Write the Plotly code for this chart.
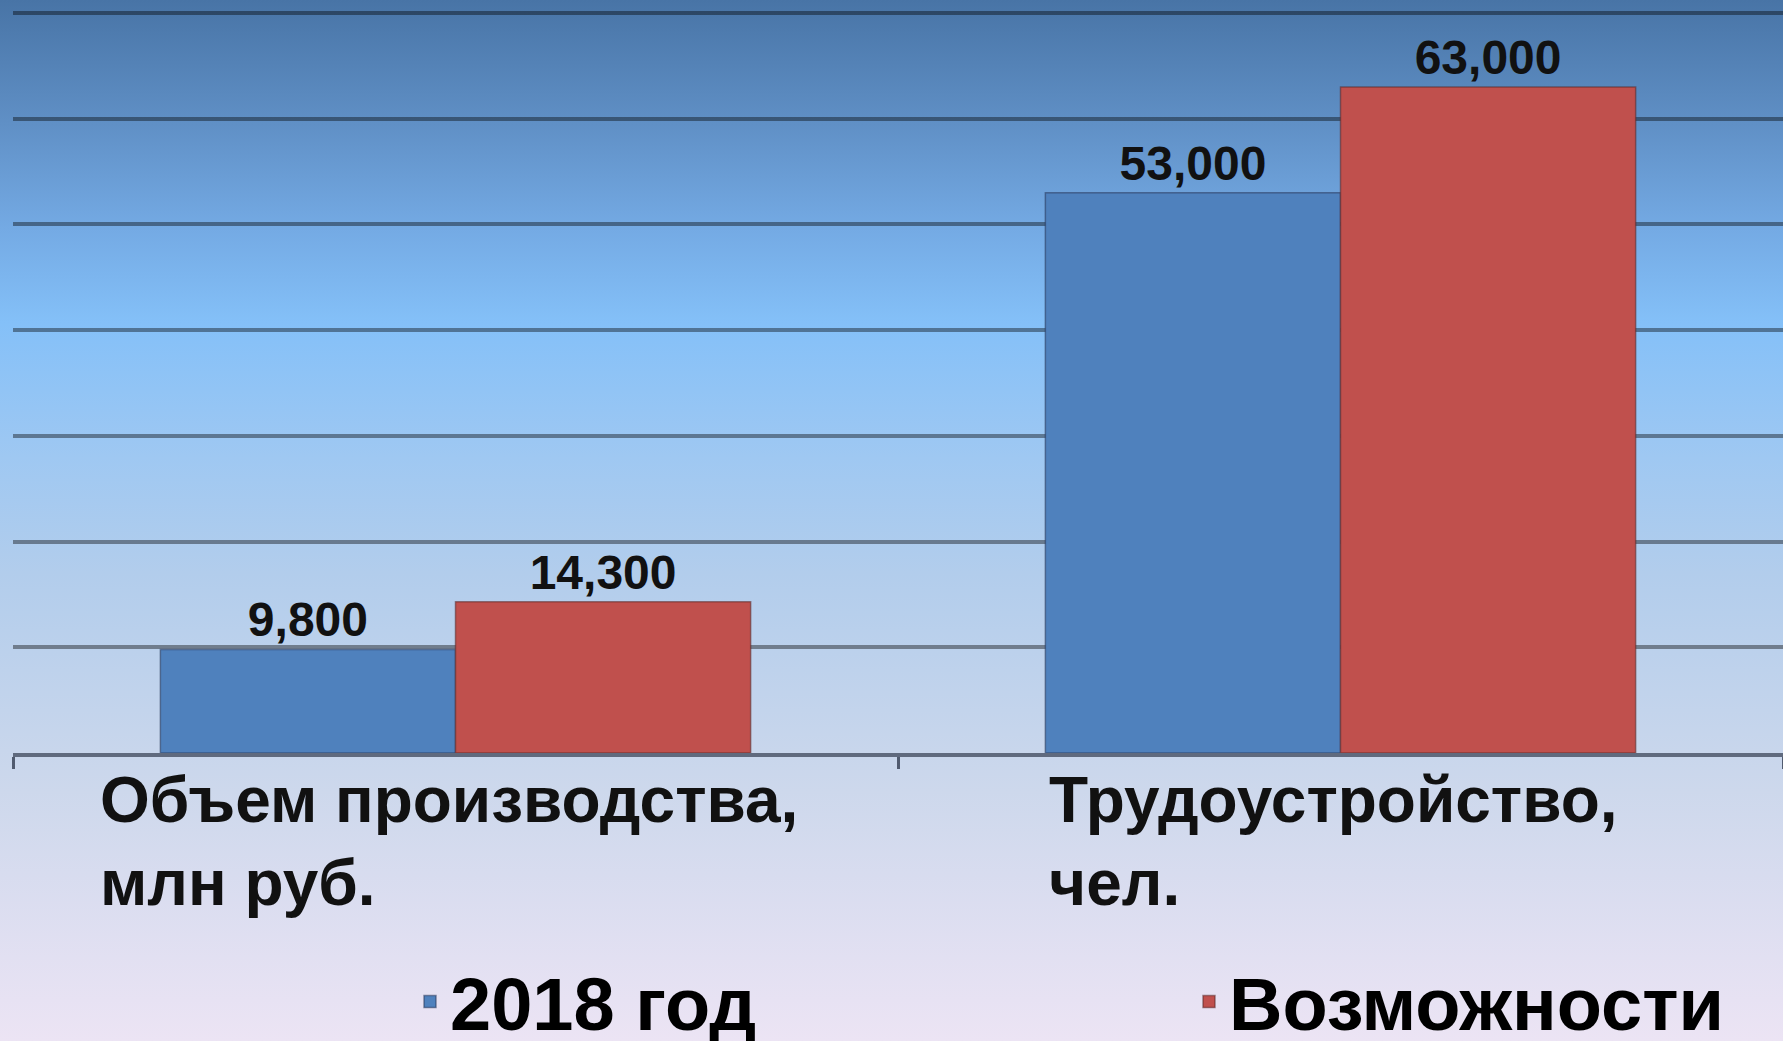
import base64
import plotly.graph_objects as go

# ---- data ----
categories = ["Объем производства,<br>млн руб.", "Трудоустройство,<br>чел."]
series_names = ["2018 год", "Возможности"]
values_2018 = [9800, 53000]
values_possible = [14300, 63000]
y_ticks = [0, 10000, 20000, 30000, 40000, 50000, 60000, 70000]
y_max = 70284  # a hair above the top gridline so it gets drawn

W, H = 1783, 1041
ML, MR, MT, MB = 13, 0, 10, 288
PW, PH = W - ML - MR, H - MT - MB

FONT = "Arial, Liberation Sans, sans-serif"

# background gradient as an SVG image
svg = f'''<svg xmlns="http://www.w3.org/2000/svg" width="{W}" height="{H}" preserveAspectRatio="none">
<defs><linearGradient id="g" x1="0" y1="0" x2="0" y2="1">
<stop offset="0" stop-color="#4874a6"/>
<stop offset="0.12" stop-color="#6090c6"/>
<stop offset="0.22" stop-color="#74aae4"/>
<stop offset="0.31" stop-color="#84c0f8"/>
<stop offset="0.44" stop-color="#9fc8f2"/>
<stop offset="0.55" stop-color="#b2cdec"/>
<stop offset="0.76" stop-color="#cdd8ec"/>
<stop offset="0.92" stop-color="#e2e0f2"/>
<stop offset="1" stop-color="#ece4f4"/>
</linearGradient></defs>
<rect x="0" y="0" width="{W}" height="{H}" fill="url(#g)"/>
</svg>'''
bg_src = "data:image/svg+xml;base64," + base64.b64encode(svg.encode()).decode()

fig = go.Figure()
fig.add_trace(go.Bar(
    name=series_names[0], x=categories, y=values_2018,
    marker=dict(color="#4f81bd", line=dict(color="rgba(40,55,90,0.55)", width=1.5)),
    texttemplate="%{y:,.0f}", textposition="outside", cliponaxis=False,
    textfont=dict(family=FONT, size=48, color="#111111", weight="bold"),
    legend="legend",
))
fig.add_trace(go.Bar(
    name=series_names[1], x=categories, y=values_possible,
    marker=dict(color="#c0504d", line=dict(color="rgba(90,40,40,0.55)", width=1.5)),
    texttemplate="%{y:,.0f}", textposition="outside", cliponaxis=False,
    textfont=dict(family=FONT, size=48, color="#111111", weight="bold"),
    legend="legend2",
))

annotations = []
for c in categories:
    annotations.append(dict(
        x=c, xref="x", xshift=-7, y=(0 - 9) / PH, yref="paper", yanchor="top", xanchor="center",
        text=c, align="left", showarrow=False,
        font=dict(family=FONT, size=64, color="#111111", weight="bold"),
    ))

fig.update_layout(
    width=W, height=H,
    margin=dict(l=ML, r=MR, t=MT, b=MB, autoexpand=False),
    paper_bgcolor="#c8d6ec", plot_bgcolor="rgba(0,0,0,0)",
    barmode="group", bargap=0.333, bargroupgap=0,
    showlegend=True,
    images=[dict(source=bg_src, xref="paper", yref="paper",
                 x=-ML / PW, y=1 + MT / PH, sizex=W / PW, sizey=H / PH,
                 xanchor="left", yanchor="top", sizing="stretch", layer="below")],
    xaxis=dict(type="category", categoryorder="array", categoryarray=categories,
               showticklabels=False, showgrid=False,
               showline=True, linecolor="rgba(60,70,90,0.75)", linewidth=4,
               ticks="outside", tickson="boundaries", ticklen=12, tickwidth=3,
               tickcolor="rgba(50,60,80,0.8)"),
    yaxis=dict(range=[0, y_max], tickvals=y_ticks, showticklabels=False,
               showgrid=True, gridcolor="rgba(0,0,0,0.4)", gridwidth=4,
               zeroline=False, showline=False),
    legend=dict(x=(410 - ML) / PW, y=(0 - 249) / PH, xanchor="left", yanchor="middle",
                orientation="h", bgcolor="rgba(0,0,0,0)",
                font=dict(family=FONT, size=74, color="#000000", weight="bold")),
    legend2=dict(x=(1189 - ML) / PW, y=(0 - 249) / PH, xanchor="left", yanchor="middle",
                 orientation="h", bgcolor="rgba(0,0,0,0)",
                 font=dict(family=FONT, size=74, color="#000000", weight="bold")),
    annotations=annotations,
)

fig.write_html("out.html", config={"displayModeBar": False},
               post_script="document.body.style.margin='0';document.body.style.overflow='hidden';")
